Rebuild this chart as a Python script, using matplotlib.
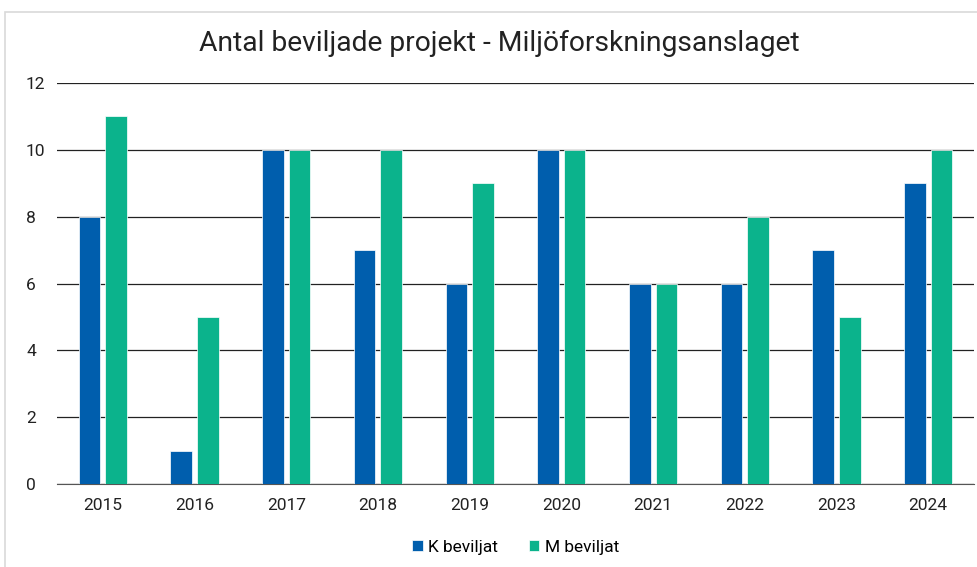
import matplotlib
matplotlib.use("Agg")
import matplotlib.pyplot as plt
import numpy as np
from matplotlib.patches import Rectangle

years = ["2015", "2016", "2017", "2018", "2019", "2020", "2021", "2022", "2023", "2024"]
k_beviljat = [8, 1, 10, 7, 6, 10, 6, 6, 7, 9]
m_beviljat = [11, 5, 10, 10, 9, 10, 6, 8, 5, 10]

plt.rcParams['font.family'] = ['Roboto', 'DejaVu Sans']

fig = plt.figure(figsize=(9.78, 5.67), dpi=100)
fig.patches.append(Rectangle((5/978, -0.1), 1.2, 1 - 12/567 + 0.1, transform=fig.transFigure,
                             facecolor='white', edgecolor='#d9d9d9', lw=1.2, zorder=-1))
ax = fig.add_axes([57/978, 1 - 484/567, (974-57)/978, (484-83)/567])

x = np.arange(len(years))
w = 0.235
ax.bar(x - 0.145, k_beviljat, width=w, color='#005EAD', edgecolor='white', linewidth=0.5, label='K beviljat', zorder=3)
ax.bar(x + 0.145, m_beviljat, width=w, color='#0BB38C', edgecolor='white', linewidth=0.5, label='M beviljat', zorder=3)

ax.set_xlim(-0.5, len(years) - 0.5)
ax.set_ylim(0, 12)
ax.set_yticks(range(0, 13, 2))
ax.set_xticks(x)
ax.set_xticklabels(years)
ax.grid(axis='y', color='#222222', linewidth=0.9, zorder=0)
for s in ['top', 'right', 'left']:
    ax.spines[s].set_visible(False)
ax.spines['bottom'].set_color('#555555')
ax.tick_params(axis='both', length=0, labelsize=12.5, colors='#222222')
ax.tick_params(axis='x', pad=10)
for lbl in ax.get_yticklabels():
    lbl.set_horizontalalignment('left')
ax.yaxis.set_tick_params(pad=22.3)

fig.text(0.511, 1 - 43/567, 'Antal beviljade projekt - Miljöforskningsanslaget', ha='center', va='center',
         fontsize=20.3, color='#222222')

ax.legend(loc='upper center', bbox_to_anchor=(0.5, -0.1), ncol=2, frameon=False,
          fontsize=12.5, handlelength=0.6, handleheight=0.6, columnspacing=1.8, handletextpad=0.3)

fig.savefig('out.png', dpi=100)
